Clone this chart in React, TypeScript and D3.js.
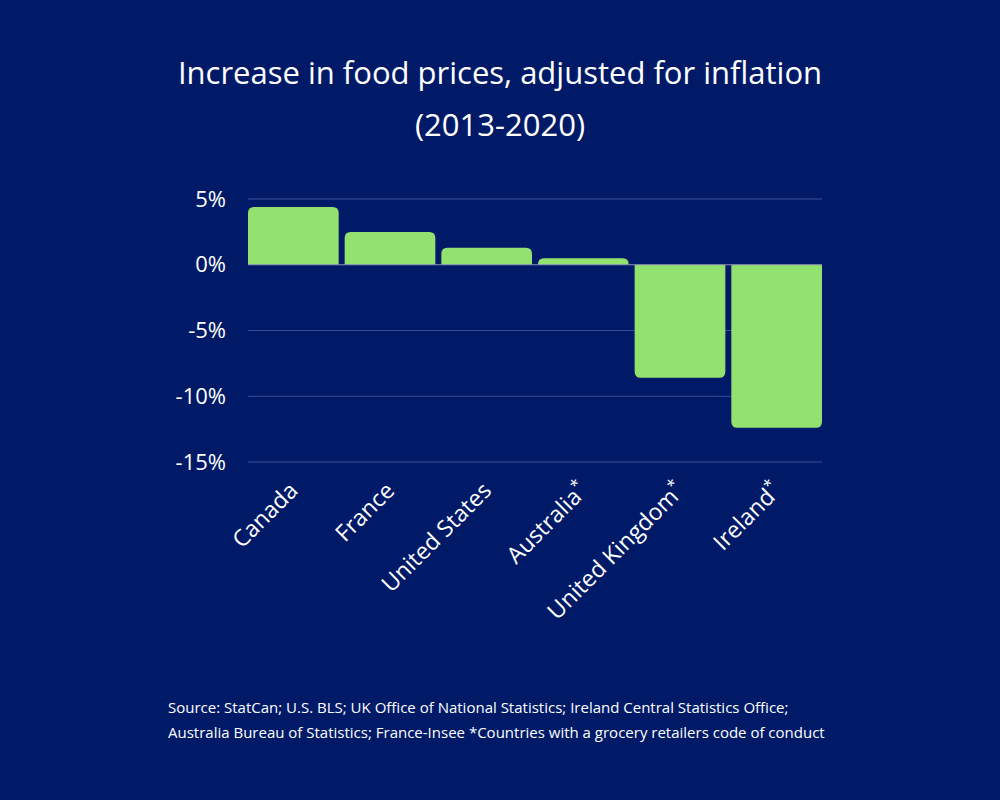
import React from "react";
import * as d3 from "d3";

const countries = ["Canada", "France", "United States", "Australia", "United Kingdom", "Ireland"];
const starred = [false, false, false, true, true, true];
const values = [4.4, 2.5, 1.3, 0.5, -8.6, -12.4];
const yTicks = [5, 0, -5, -10, -15];
const titleLines = ["Increase in food prices, adjusted for inflation", "(2013-2020)"];
const sourceLines = [
  "Source: StatCan; U.S. BLS; UK Office of National Statistics; Ireland Central Statistics Office;",
  "Australia Bureau of Statistics; France-Insee *Countries with a grocery retailers code of conduct",
];

const W = 1000, H = 800;
const BG = "#001A68";
const BAR = "#93E26F";
const FONT = "'Open Sans', Lato, sans-serif";

function roundedBar(x: number, y0: number, y1: number, w: number, r: number) {
  const up = y1 < y0;
  const rr = Math.min(r, Math.abs(y1 - y0));
  if (up) {
    return `M${x},${y0} V${y1 + rr} Q${x},${y1} ${x + rr},${y1} H${x + w - rr} Q${x + w},${y1} ${x + w},${y1 + rr} V${y0} Z`;
  }
  return `M${x},${y0} V${y1 - rr} Q${x},${y1} ${x + rr},${y1} H${x + w - rr} Q${x + w},${y1} ${x + w},${y1 - rr} V${y0} Z`;
}

export default function App() {
  const x = d3.scaleBand<string>().domain(countries).range([248, 822]).paddingInner(0.062).paddingOuter(0);
  const y = d3.scaleLinear().domain([-15, 5]).range([462, 199]);

  return (
    <svg width={W} height={H} style={{ display: "block", position: "absolute", left: 0, top: 0 }}>
      <rect width={W} height={H} fill={BG} />
      {titleLines.map((t, i) => (
        <text key={i} x={500} y={84 + i * 52} textAnchor="middle" fill="#fff" fontSize={31} fontFamily={FONT}>
          {t}
        </text>
      ))}
      {yTicks.map((t) => (
        <g key={t}>
          {t !== 0 && <line x1={248} x2={822} y1={y(t)} y2={y(t)} stroke="#3A4E97" strokeWidth={1} />}
          <text x={226} y={y(t)} dy="0.35em" textAnchor="end" fill="#fff" fontSize={22} fontFamily={FONT}>
            {t}%
          </text>
        </g>
      ))}
      {countries.map((c, i) => {
        const v = values[i];
        return <path key={c} d={roundedBar(x(c)!, y(0), y(v), x.bandwidth(), 6)} fill={BAR} />;
      })}
      <line x1={248} x2={822} y1={y(0)} y2={y(0)} stroke="#8C93B8" strokeWidth={1} />
      {countries.map((c, i) => {
        const cx = x(c)! + x.bandwidth() / 2 + 6;
        const cy = 492;
        return (
          <text
            key={c}
            transform={`translate(${cx},${cy}) rotate(-45)`}
            textAnchor="end"
            fill="#fff"
            fontSize={23}
            fontFamily={FONT}
          >
            {c}
            {starred[i] && (
              <tspan fontSize={16} dy={-9}>
                *
              </tspan>
            )}
          </text>
        );
      })}
      {sourceLines.map((s, i) => (
        <text key={i} x={168} y={713 + i * 25} fill="#fff" fontSize={15} fontFamily={FONT}>
          {s}
        </text>
      ))}
    </svg>
  );
}
